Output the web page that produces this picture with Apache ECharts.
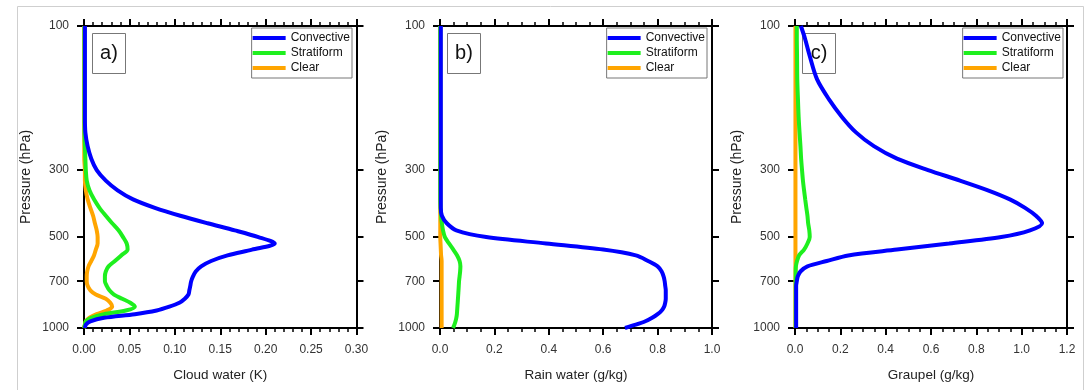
<!DOCTYPE html>
<html><head><meta charset="utf-8">
<script src="https://cdn.jsdelivr.net/npm/echarts@6/dist/echarts.min.js"></script>
<style>html,body{margin:0;padding:0;background:#fff}#c{width:1084px;height:390px}</style>
</head><body><div id="c"></div>
<script>
// Pressure levels (hPa)
const levels = [100,110,125,150,175,200,225,250,275,300,325,350,375,400,425,450,475,500,525,550,575,600,625,650,675,700,725,750,775,800,825,850,875,900,925,950,975,1000];

// a) Cloud water
const cloudConvective = [0.001,0.001,0.001,0.001,0.001,0.001,0.0015,0.004,0.008,0.014,0.024,0.037,0.054,0.078,0.106,0.136,0.166,0.192,0.210,0.185,0.158,0.140,0.129,0.123,0.120,0.118,0.117,0.116,0.115,0.111,0.105,0.094,0.080,0.056,0.022,0.007,0.002,0.001];
const cloudStratiform = [0.0005,0.0005,0.0005,0.0005,0.0005,0.0005,0.0005,0.001,0.0015,0.002,0.003,0.006,0.011,0.017,0.024,0.031,0.038,0.043,0.047,0.048,0.041,0.034,0.027,0.024,0.023,0.023,0.025,0.028,0.033,0.042,0.051,0.056,0.046,0.022,0.008,0.002,0.001,0.0];
const cloudClear = [0.0003,0.0003,0.0003,0.0003,0.0003,0.0003,0.0003,0.0003,0.0003,0.001,0.001,0.002,0.004,0.007,0.010,0.012,0.014,0.015,0.015,0.013,0.011,0.008,0.005,0.0035,0.003,0.003,0.004,0.007,0.013,0.024,0.029,0.031,0.025,0.014,0.006,0.002,0.001,0.0];

// b) Rain water
const rainConvective = [0.003,0.003,0.003,0.003,0.003,0.003,0.003,0.003,0.003,0.003,0.003,0.003,0.003,0.003,0.007,0.025,0.06,0.17,0.39,0.60,0.72,0.765,0.80,0.815,0.822,0.826,0.828,0.83,0.83,0.83,0.828,0.824,0.815,0.80,0.78,0.755,0.72,0.68];
const rainStratiform = [0.001,0.001,0.001,0.001,0.001,0.001,0.001,0.001,0.001,0.001,0.001,0.001,0.001,0.002,0.004,0.007,0.011,0.018,0.033,0.049,0.063,0.072,0.075,0.074,0.072,0.070,0.069,0.068,0.067,0.066,0.065,0.064,0.063,0.062,0.060,0.057,0.053,0.048];
const rainClear = [0.001,0.001,0.001,0.001,0.001,0.001,0.001,0.001,0.001,0.001,0.001,0.001,0.001,0.001,0.001,0.001,0.001,0.001,0.002,0.003,0.004,0.006,0.006,0.006,0.006,0.006,0.006,0.006,0.006,0.006,0.006,0.006,0.006,0.006,0.006,0.006,0.006,0.006];

// c) Graupel
const graupelConvective = [0.026,0.044,0.064,0.097,0.150,0.207,0.269,0.348,0.450,0.587,0.728,0.851,0.948,1.015,1.063,1.09,1.037,0.91,0.68,0.45,0.235,0.14,0.055,0.024,0.012,0.008,0.005,0.005,0.005,0.005,0.005,0.005,0.005,0.005,0.005,0.005,0.005,0.005];
const graupelStratiform = [0.008,0.008,0.009,0.010,0.013,0.016,0.020,0.024,0.027,0.031,0.035,0.040,0.045,0.050,0.055,0.058,0.063,0.065,0.055,0.040,0.018,0.009,0.004,0.003,0.003,0.003,0.003,0.003,0.003,0.003,0.003,0.003,0.003,0.003,0.003,0.003,0.003,0.003];
const graupelClear = [0.002,0.002,0.002,0.002,0.002,0.002,0.002,0.002,0.002,0.002,0.002,0.002,0.002,0.002,0.002,0.002,0.002,0.002,0.002,0.002,0.002,0.002,0.002,0.002,0.002,0.002,0.002,0.002,0.002,0.002,0.002,0.002,0.002,0.002,0.002,0.002,0.002,0.002];

const yTicks = [100, 300, 500, 700, 1000];
const seriesNames = ['Convective', 'Stratiform', 'Clear'];
const panelLabels = ['a)', 'b)', 'c)'];
const xNames = ['Cloud water (K)', 'Rain water (g/kg)', 'Graupel (g/kg)'];
const xMax = [0.3, 1.0, 1.2];
const xInterval = [0.05, 0.2, 0.2];
const xDecimals = [2, 1, 1];
const minorSplit = [5, 4, 4];
const panelData = [
  [cloudConvective, cloudStratiform, cloudClear],
  [rainConvective, rainStratiform, rainClear],
  [graupelConvective, graupelStratiform, graupelClear]
];

const colors = ['#0000ff', '#1eef1e', '#ffa500'];
const FONT = 'Liberation Sans, Arial, Helvetica, sans-serif';
const gridLeft = [84, 440, 795];
const gridWidth = [272.5, 272, 272];
const legendRight = [732, 377, 21];
const labelBoxX = [92, 447, 802];

const grid = [], xAxis = [], yAxis = [], series = [], legend = [], graphic = [];
const lineCol = '#000';

for (let i = 0; i < 3; i++) {
  grid.push({ left: gridLeft[i], width: gridWidth[i], top: 26, height: 302 });
  const common = {
    type: 'value', gridIndex: i, min: 0, max: xMax[i], interval: xInterval[i],
    splitLine: { show: false },
    axisLine: { show: true, onZero: false, lineStyle: { color: lineCol, width: 2 } },
    axisTick: { show: true, length: 7, lineStyle: { color: lineCol, width: 2 } },
    minorTick: { show: true, splitNumber: minorSplit[i], length: 4, lineStyle: { color: lineCol, width: 1.5 } }
  };
  xAxis.push(Object.assign({}, common, {
    position: 'bottom',
    name: xNames[i], nameLocation: 'middle', nameGap: 40,
    nameTextStyle: { fontFamily: FONT, fontSize: 13.5, color: '#222' },
    axisLabel: { show: true, margin: 16, fontFamily: FONT, fontSize: 12, color: '#333',
      formatter: (v) => v.toFixed(xDecimals[i]) }
  }));
  xAxis.push(Object.assign({}, common, { position: 'top', axisLabel: { show: false } }));

  const ycommon = {
    type: 'log', logBase: 10, gridIndex: i, min: 100, max: 1000, inverse: true,
    splitLine: { show: false },
    axisLine: { show: true, onZero: false, lineStyle: { color: lineCol, width: 2 } },
    axisTick: { show: true, length: 7, customValues: yTicks, lineStyle: { color: lineCol, width: 2 } },
    minorTick: { show: false }
  };
  yAxis.push(Object.assign({}, ycommon, {
    position: 'left',
    name: 'Pressure (hPa)', nameLocation: 'middle', nameGap: 51,
    nameTextStyle: { fontFamily: FONT, fontSize: 14, color: '#222' },
    axisLabel: { show: true, margin: 15, fontFamily: FONT, fontSize: 12, color: '#333',
      customValues: yTicks, formatter: (v) => String(Math.round(v)) }
  }));
  yAxis.push(Object.assign({}, ycommon, { position: 'right', axisLabel: { show: false } }));

  for (let s = 2; s >= 0; s--) {
    const vals = panelData[i][s];
    series.push({
      type: 'line', name: seriesNames[s], xAxisIndex: 2 * i, yAxisIndex: 2 * i,
      data: levels.map((p, k) => [vals[k], p]),
      showSymbol: false, symbol: 'none', smooth: 0.3,
      lineStyle: { color: colors[s], width: 4 },
      itemStyle: { color: colors[s] },
      z: 3 + (2 - s), silent: true, clip: true
    });
  }

  legend.push({
    data: seriesNames, orient: 'vertical', right: legendRight[i], top: 28,
    icon: 'rect', itemWidth: 33, itemHeight: 4, itemGap: 1,
    padding: [3, 2, 3, 1], backgroundColor: '#fff',
    borderColor: '#777', borderWidth: 1, borderRadius: 0,
    selectedMode: false, z: 10,
    textStyle: { fontFamily: FONT, fontSize: 12, color: '#111', lineHeight: 14 }
  });

  graphic.push({
    type: 'group', left: labelBoxX[i], top: 33, z: 100,
    children: [
      { type: 'rect', shape: { x: 0, y: 0, width: 33, height: 40 },
        style: { fill: '#fff', stroke: '#777', lineWidth: 1 } },
      { type: 'text', x: 16.5, y: 20,
        style: { text: panelLabels[i], fill: '#111', font: '20px ' + FONT, align: 'center', verticalAlign: 'middle' } }
    ]
  });
}

graphic.push({
  type: 'rect', left: 15, top: 4, z: -1, silent: true,
  shape: { x: 0, y: 0, width: 1066, height: 400 },
  style: { fill: 'none', stroke: '#cfcfcf', lineWidth: 1 }
});

const chart = echarts.init(document.getElementById('c'), null, { renderer: 'canvas' });
chart.setOption({
  animation: false,
  backgroundColor: '#fff',
  grid, xAxis, yAxis, series, legend, graphic
});
</script>
</body></html>
